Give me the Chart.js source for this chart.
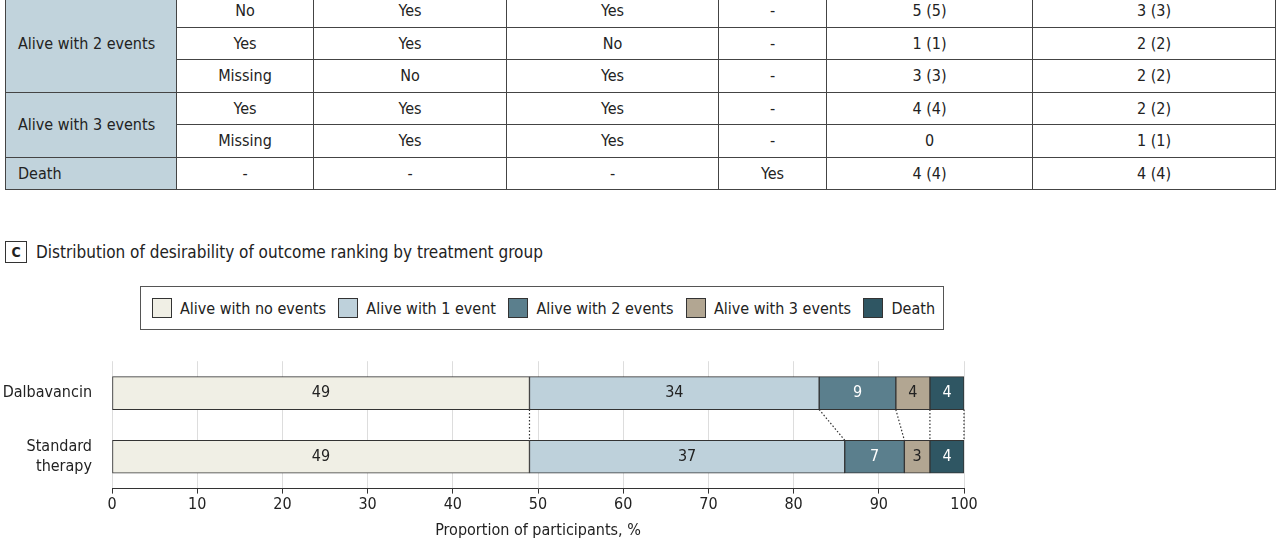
<!DOCTYPE html>
<html><head><meta charset="utf-8">
<script src="https://cdn.jsdelivr.net/npm/chart.js@4"></script>
<style>
body{margin:0;width:1280px;height:544px;overflow:hidden;background:#fff;font-family:"DejaVu Sans Condensed","Liberation Sans Narrow",sans-serif;color:#222;position:relative}
table{position:absolute;left:5px;top:-6px;border-collapse:collapse;font-size:16px}
td{border:1px solid #444;height:31.5px;padding:0;text-align:center}
td.g{background:#c1d3dc;text-align:left;padding-left:12px}
#title{position:absolute;left:5px;top:241px;font-size:17px;display:flex;align-items:center}
#title span.c{border:1px solid #333;width:20px;height:20px;display:inline-block;text-align:center;font-weight:bold;font-size:14px;line-height:20px;margin-right:9px}
#legend{position:absolute;left:140px;top:286px;width:804px;height:44px;border:1px solid #555;box-sizing:border-box;display:flex;align-items:center;justify-content:space-between;padding:0 8px 0 11px;font-size:16px;white-space:nowrap}
#legend div{display:flex;align-items:center}
#legend i{display:inline-block;width:18px;height:18px;border:1px solid #333;margin-right:8px}
#wrap{position:absolute;left:0;top:330px;width:1280px;height:214px}
</style></head><body>
<table id="tbl"></table>
<div id="title"><span class="c">C</span>Distribution of desirability of outcome ranking by treatment group</div>
<div id="legend"></div>
<div id="wrap"><canvas id="c"></canvas></div>
<script>
const tableRows = [
  ['No','Yes','Yes','-','5 (5)','3 (3)'],
  ['Yes','Yes','No','-','1 (1)','2 (2)'],
  ['Missing','No','Yes','-','3 (3)','2 (2)'],
  ['Yes','Yes','Yes','-','4 (4)','2 (2)'],
  ['Missing','Yes','Yes','-','0','1 (1)'],
  ['-','-','-','Yes','4 (4)','4 (4)']
];
const groups = [['Alive with 2 events',3],null,null,['Alive with 3 events',2],null,['Death',1]];
const colWidths = [171,137,193,212,108,206,243];

const categories = ['Dalbavancin', ['Standard', 'therapy']];
const seriesNames = ['Alive with no events','Alive with 1 event','Alive with 2 events','Alive with 3 events','Death'];
const dalbavancin = [49, 34, 9, 4, 4];
const standard = [49, 37, 7, 3, 4];
const colors = ['#f0efe5','#bed1db','#5b7f8d','#b2a692','#2f5663'];
const labelColors = ['#222','#222','#fff','#222','#fff'];
const FONT = '"DejaVu Sans Condensed", "Liberation Sans Narrow", sans-serif';

const tbl = document.getElementById('tbl');
tableRows.forEach((r, i) => {
  const tr = document.createElement('tr');
  if (groups[i]) {
    const td = document.createElement('td');
    td.className = 'g'; td.rowSpan = groups[i][1]; td.textContent = groups[i][0];
    td.style.width = (colWidths[0]-13) + 'px';
    tr.appendChild(td);
  }
  r.forEach((v, j) => {
    const td = document.createElement('td');
    td.textContent = v; td.style.width = (colWidths[j+1]-1) + 'px';
    tr.appendChild(td);
  });
  tbl.appendChild(tr);
});

const lg = document.getElementById('legend');
seriesNames.forEach((n, i) => {
  const d = document.createElement('div');
  d.innerHTML = '<i style="background:' + colors[i] + '"></i>' + n;
  lg.appendChild(d);
});

const valueLabels = {
  id: 'valueLabels',
  afterDatasetsDraw(chart) {
    const ctx = chart.ctx;
    ctx.save();
    ctx.font = '16px ' + FONT;
    ctx.textAlign = 'center'; ctx.textBaseline = 'middle';
    chart.data.datasets.forEach((ds, i) => {
      chart.getDatasetMeta(i).data.forEach((b, j) => {
        const p = b.getProps(['x','base','y'], true);
        ctx.fillStyle = labelColors[i];
        ctx.fillText(ds.data[j], (p.x + p.base) / 2, p.y);
      });
    });
    // dotted connectors between bar boundaries
    const xs = chart.scales.x;
    const m0 = chart.getDatasetMeta(0).data;
    const y1 = m0[0].y + m0[0].height / 2, y2 = m0[1].y - m0[1].height / 2;
    let a = 0, b = 0;
    ctx.strokeStyle = '#333'; ctx.lineWidth = 1.2; ctx.setLineDash([1.5, 2]);
    for (let i = 0; i < dalbavancin.length; i++) {
      a += dalbavancin[i]; b += standard[i];
      ctx.beginPath();
      ctx.moveTo(xs.getPixelForValue(a), y1);
      ctx.lineTo(xs.getPixelForValue(b), y2);
      ctx.stroke();
    }
    ctx.restore();
  }
};

new Chart(document.getElementById('c'), {
  type: 'bar',
  data: {
    labels: categories,
    datasets: seriesNames.map((n, i) => ({
      label: n,
      data: [dalbavancin[i], standard[i]],
      backgroundColor: colors[i],
      borderColor: '#333',
      borderWidth: 1,
      borderSkipped: false,
      barThickness: 33
    }))
  },
  options: {
    indexAxis: 'y',
    responsive: true,
    maintainAspectRatio: false,
    animation: false,
    layout: { padding: { top: 9, right: 316, bottom: 0, left: 0 } },
    plugins: { legend: { display: false }, tooltip: { enabled: false } },
    scales: {
      x: {
        stacked: true, min: 0, max: 100,
        ticks: { stepSize: 10, color: '#222', font: { size: 16, family: FONT }, padding: 2 },
        grid: { color: '#ddd', tickColor: '#333', tickLength: 5 },
        border: { color: '#333' },
        title: { display: true, text: 'Proportion of participants, %', color: '#222', font: { size: 16, family: FONT }, padding: { top: 4 } }
      },
      y: {
        stacked: true,
        afterFit(s) { s.width = 112; },
        ticks: { color: '#222', font: { size: 16, family: FONT }, padding: 12 },
        grid: { display: false },
        border: { display: false }
      }
    }
  },
  plugins: [valueLabels]
});
</script>
</body></html>
